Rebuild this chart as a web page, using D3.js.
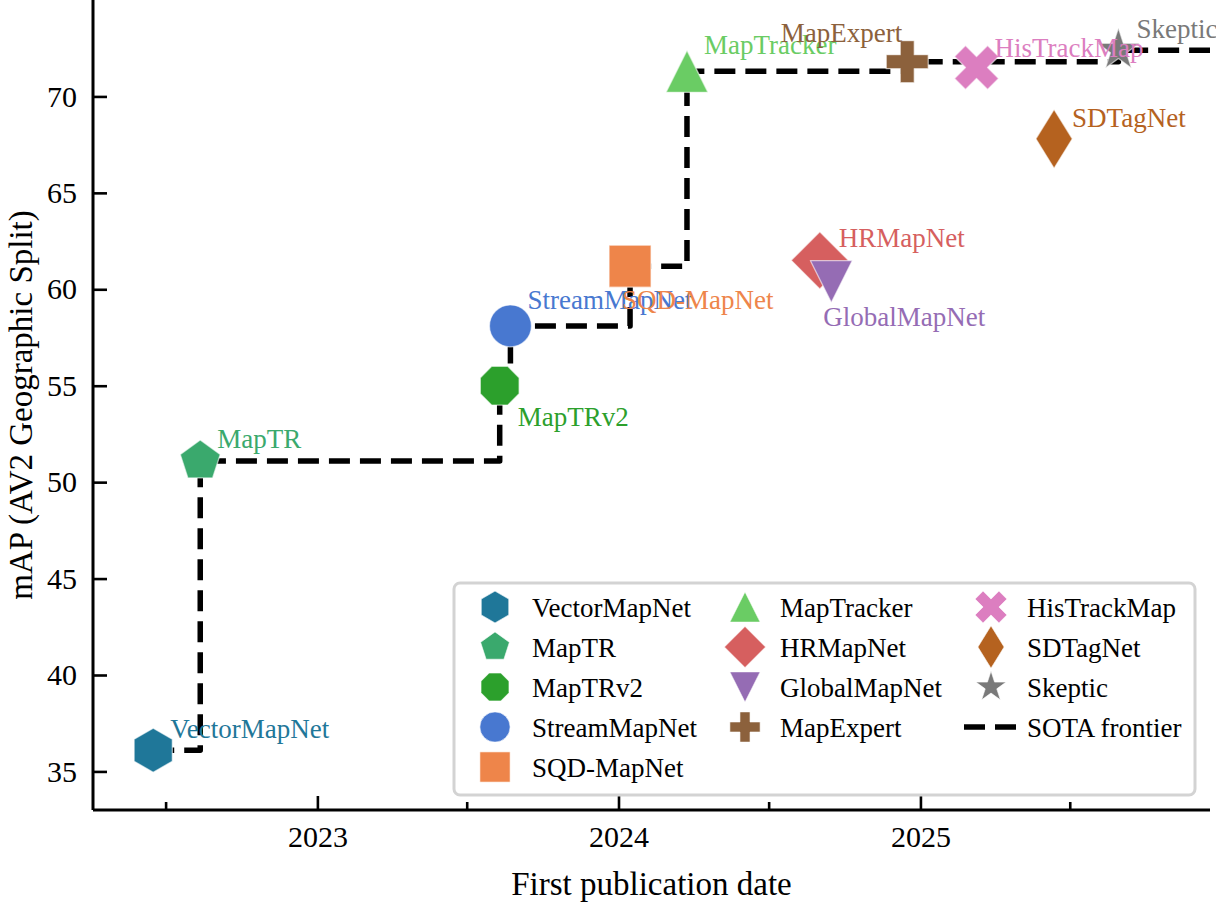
<!DOCTYPE html>
<html><head><meta charset="utf-8">
<script src="https://cdn.jsdelivr.net/npm/d3@7"></script>
<style>
body{margin:0;background:#fff}
svg{display:block}
text{font-family:"Liberation Serif","Times New Roman",serif}
</style>
</head><body>
<svg id="chart" width="1216" height="903"></svg>
<script>
// ---- data ----
const methods = ["VectorMapNet","MapTR","MapTRv2","StreamMapNet","SQD-MapNet","MapTracker","HRMapNet","GlobalMapNet","MapExpert","HisTrackMap","SDTagNet","Skeptic"];
const pubDates = ["2022-06-16","2022-08-12","2023-08-10","2023-08-23","2024-01-15","2024-03-24","2024-09-01","2024-09-15","2024-12-16","2025-03-10","2025-06-12","2025-08-29"];
const mapValues = [36.1,51.1,55.0,58.1,61.2,71.3,61.5,60.4,71.8,71.5,67.8,72.4];
const colors = ["#1f7799","#3aa96d","#2ca02c","#4878d0","#ee854a","#6acc64","#d65f5f","#956cb4","#8c613c","#dc7ec0","#b5621f","#797979"];
const shapes = ["hexagon","pentagon","octagon","circle","square","triangleUp","diamond","triangleDown","plus","x","thinDiamond","star"];
const yTicks = [35,40,45,50,55,60,65,70];
const xMajorTicks = ["2023-01-01","2024-01-01","2025-01-01"];
const xMinorTicks = ["2022-07-01","2023-07-01","2024-07-01","2025-07-01"];
const xDomain = ["2022-04-04","2025-12-18"];
const yDomain = [33,75];
// label placement (dx, dy, anchor)
const labelOffsets = [[17,-12,"start"],[17,-13,"start"],[18,40,"start"],[17,-17,"start"],[-8,43,"start"],[17,-17,"start"],[19,-13,"start"],[-8,44,"start"],[-5,-20,"end"],[18,-11,"start"],[18,-12,"start"],[18,-12,"start"]];
const frontierLabel = "SOTA frontier";

// ---- layout ----
const svg = d3.select("#chart");
const L = 93, R = 1210, T = 0, B = 810;
const parse = d3.utcParse("%Y-%m-%d");
const x = d3.scaleUtc().domain(xDomain.map(parse)).range([L, R]);
const y = d3.scaleLinear().domain(yDomain).range([B, T]);

const data = methods.map((m,i)=>({name:m, date:parse(pubDates[i]), v:mapValues[i], color:colors[i], shape:shapes[i], off:labelOffsets[i]}));

// ---- marker shapes ----
function poly(pts){ return "M" + pts.map(p=>p[0].toFixed(2)+","+p[1].toFixed(2)).join("L") + "Z"; }
function regular(n, r, rot){
  const pts=[]; for(let k=0;k<n;k++){const a=rot+k*2*Math.PI/n; pts.push([r*Math.sin(a), -r*Math.cos(a)]);} return poly(pts);
}
function shapePath(s, r){
  switch(s){
    case "circle": return `M${r},0A${r},${r} 0 1,1 ${-r},0A${r},${r} 0 1,1 ${r},0Z`;
    case "square": return poly([[-r,-r],[r,-r],[r,r],[-r,r]]);
    case "hexagon": return regular(6, r*1.05, 0);
    case "pentagon": return regular(5, r, 0);
    case "octagon": return regular(8, r, Math.PI/8);
    case "triangleUp": return poly([[0,-r],[r,r],[-r,r]]);
    case "triangleDown": return poly([[0,r],[r,-r],[-r,-r]]);
    case "diamond": { const d=r*1.36; return poly([[0,-d],[d,0],[0,d],[-d,0]]); }
    case "thinDiamond": { const d=r*1.4; return poly([[0,-d],[d*0.62,0],[0,d],[-d*0.62,0]]); }
    case "plus": { const u=r/3; return poly([[-1,-3],[1,-3],[1,-1],[3,-1],[3,1],[1,1],[1,3],[-1,3],[-1,1],[-3,1],[-3,-1],[-1,-1]].map(p=>[p[0]*u,p[1]*u])); }
    case "x": { const u=r*1.05/2; return poly([[-1,-2],[0,-1],[1,-2],[2,-1],[1,0],[2,1],[1,2],[0,1],[-1,2],[-2,1],[-1,0],[-2,-1]].map(p=>[p[0]*u,p[1]*u])); }
    case "star": { const pts=[]; for(let k=0;k<10;k++){const a=k*Math.PI/5; const rr=(k%2===0)?r*1.05:r*1.05*0.381966; pts.push([rr*Math.sin(a), -rr*Math.cos(a)]);} return poly(pts); }
  }
}

// ---- axes ----
const yAxis = svg.append("g").attr("transform",`translate(${L},0)`)
  .call(d3.axisLeft(y).tickValues(yTicks).tickSize(-14).tickSizeOuter(0).tickPadding(16));
const xAxisMinor = svg.append("g").attr("transform",`translate(0,${B})`)
  .call(d3.axisBottom(x).tickValues(xMinorTicks.map(parse)).tickSize(-8).tickSizeOuter(0).tickFormat(""));
const xAxis = svg.append("g").attr("transform",`translate(0,${B})`)
  .call(d3.axisBottom(x).tickValues(xMajorTicks.map(parse)).tickSize(-14).tickSizeOuter(0).tickPadding(16).tickFormat(d3.utcFormat("%Y")));
[yAxis,xAxis,xAxisMinor].forEach(g=>{
  g.select(".domain").attr("stroke","#000").attr("stroke-width",3);
  g.selectAll(".tick line").attr("stroke","#000").attr("stroke-width",2.6);
  g.selectAll(".tick text").attr("font-size",30).attr("fill","#000").attr("font-family","Liberation Serif, serif");
});
xAxisMinor.select(".domain").remove();
// extend left spine to top
yAxis.select(".domain").attr("d",`M0,${B}V${T}`);
xAxis.select(".domain").attr("d",`M${L},0H${R}`);

svg.append("text").attr("transform",`translate(32,${(T+B)/2}) rotate(-90)`)
  .attr("text-anchor","middle").attr("font-size",33).text("mAP (AV2 Geographic Split)");
svg.append("text").attr("x",(L+R)/2).attr("y",895)
  .attr("text-anchor","middle").attr("font-size",33).text("First publication date");

// ---- SOTA frontier (running max over time) ----
const sorted = data.slice().sort((a,b)=>a.date-b.date);
const front = []; let best = -Infinity;
sorted.forEach(d=>{ if(d.v>best){ best=d.v; front.push([d.date,d.v]); } });
front.push([x.domain()[1], best]);
svg.append("defs").append("clipPath").attr("id","clip").append("rect")
  .attr("x",L).attr("y",T).attr("width",R-L).attr("height",B-T);
svg.append("path").datum(front)
  .attr("clip-path","url(#clip)")
  .attr("d", d3.line().x(d=>x(d[0])).y(d=>y(d[1])).curve(d3.curveStepAfter))
  .attr("fill","none").attr("stroke","#000").attr("stroke-width",5.5)
  .attr("stroke-dasharray","21,10").attr("stroke-linejoin","round");

// ---- markers ----
const MR = 21;
svg.append("g").selectAll("path").data(data).join("path")
  .attr("transform",d=>`translate(${x(d.date)},${y(d.v)})`)
  .attr("d",d=>shapePath(d.shape, MR))
  .attr("fill",d=>d.color)
  .attr("stroke","#fff").attr("stroke-opacity",0.6).attr("stroke-width",1.3).attr("stroke-linejoin","round");

// ---- labels ----
svg.append("g").selectAll("text").data(data).join("text")
  .attr("x",d=>x(d.date)+d.off[0]).attr("y",d=>y(d.v)+d.off[1])
  .attr("text-anchor",d=>d.off[2])
  .attr("font-size",27).attr("fill",d=>d.color).text(d=>d.name);

// ---- legend ----
const lg = svg.append("g");
lg.append("rect").attr("x",454).attr("y",583).attr("width",741).attr("height",212).attr("rx",6)
  .attr("fill","#fff").attr("fill-opacity",0.85).attr("stroke","#d3d3d3").attr("stroke-width",3);
const colX = [[495,532],[745,780],[991,1027]];
const rowY0 = 607, rowDy = 40;
const legendItems = data.map(d=>({type:"marker", d}));
legendItems.push({type:"line"});
const perCol = [5,4,4];
let idx = 0;
perCol.forEach((n,c)=>{
  for(let r=0;r<n;r++){
    const item = legendItems[idx++]; if(!item) break;
    const cy = rowY0 + r*rowDy;
    const [mx, tx] = colX[c];
    if(item.type==="marker"){
      lg.append("path").attr("transform",`translate(${mx},${cy})`)
        .attr("d",shapePath(item.d.shape, MR*0.72)).attr("fill",item.d.color)
        .attr("stroke","#fff").attr("stroke-opacity",0.6).attr("stroke-width",1);
      lg.append("text").attr("x",tx).attr("y",cy+9.5).attr("font-size",27).attr("fill","#000").text(item.d.name);
    } else {
      lg.append("line").attr("x1",964).attr("x2",1017).attr("y1",cy).attr("y2",cy)
        .attr("stroke","#000").attr("stroke-width",5.5).attr("stroke-dasharray","21,10");
      lg.append("text").attr("x",tx).attr("y",cy+9.5).attr("font-size",27).attr("fill","#000").text(frontierLabel);
    }
  }
});
</script>
</body></html>
